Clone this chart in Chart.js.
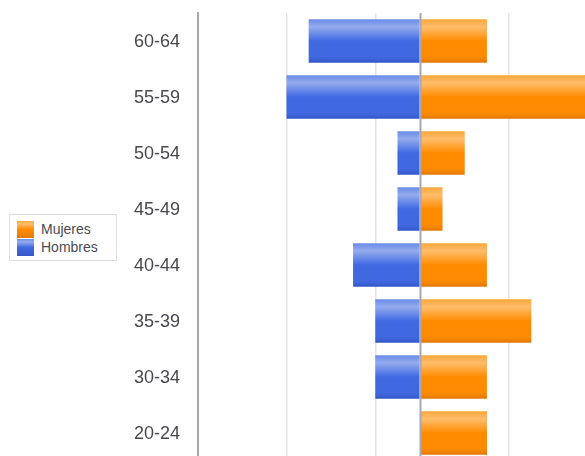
<!DOCTYPE html>
<html>
<head>
<meta charset="utf-8">
<script src="https://cdn.jsdelivr.net/npm/chart.js@4.4.1/dist/chart.umd.min.js"></script>
<style>
  html, body { margin: 0; padding: 0; background: #fff; overflow: hidden; }
  #wrap { position: relative; width: 642px; height: 461px; }
  #legend {
    position: absolute; left: 9px; top: 214px; width: 106px; height: 45px;
    border: 1px solid #dcdce4; background: #fff;
    font-family: "Liberation Sans", Arial, sans-serif; font-size: 14px; color: #4a4a55;
  }
  #legend .item { position: absolute; left: 7px; height: 17px; line-height: 17px; }
  #legend .sw { display: inline-block; width: 17px; height: 17px; vertical-align: top; margin-right: 7px; }
</style>
</head>
<body>
<div id="wrap">
  <canvas id="pyramid"></canvas>
  <div id="legend"></div>
</div>
<script>
// datos
const grupos = ['60-64', '55-59', '50-54', '45-49', '40-44', '35-39', '30-34', '20-24'];
const mujeres = [3, 8, 2, 1, 3, 5, 3, 3];
const hombres = [-5, -6, -1, -1, -3, -2, -2, 0];
const lineasGuia = [-10, -6, -2, 0, 4, 10];

const BAR_H = 43;

// degradado vertical por barra
function barGradient(context, stops) {
    const chart = context.chart;
    const yScale = chart.scales.y;
    if (!yScale || context.dataIndex === undefined) return stops[2][1];
    const yc = yScale.getPixelForValue(context.dataIndex);
    if (!isFinite(yc)) return stops[2][1];
    const g = chart.ctx.createLinearGradient(0, yc - BAR_H / 2, 0, yc + BAR_H / 2);
    stops.forEach(s => g.addColorStop(s[0], s[1]));
    return g;
}

const naranja = [[0, '#ffa73a'], [0.17, '#ffbd6c'], [0.5, '#ff8c00'], [0.88, '#fd8a00'], [1, '#e27a00']];
const azul = [[0, '#6b8be6'], [0.17, '#95acf0'], [0.5, '#4169e1'], [0.88, '#4068df'], [1, '#3558c8']];

// línea del cero encima de las barras
const zeroLine = {
    id: 'zeroLine',
    afterDatasetsDraw(chart) {
        const x = Math.round(chart.scales.x.getPixelForValue(0)) + 0.5;
        const ctx = chart.ctx;
        ctx.save();
        ctx.strokeStyle = '#a4a7bc';
        ctx.lineWidth = 2;
        ctx.beginPath();
        ctx.moveTo(x, chart.chartArea.top);
        ctx.lineTo(x, chart.chartArea.bottom);
        ctx.stroke();
        ctx.restore();
    }
};

const chart = new Chart(document.getElementById('pyramid'), {
    type: 'bar',
    data: {
        labels: grupos,
        datasets: [{
            label: 'Mujeres',
            data: mujeres,
            backgroundColor: ctx => barGradient(ctx, naranja),
            barThickness: BAR_H,
            borderWidth: 0
        }, {
            label: 'Hombres',
            data: hombres,
            backgroundColor: ctx => barGradient(ctx, azul),
            barThickness: BAR_H,
            borderWidth: 0
        }]
    },
    options: {
        indexAxis: 'y',
        responsive: true,
        maintainAspectRatio: false,
        animation: false,
        layout: { padding: { left: 0, right: 0, top: 13, bottom: 0 } },
        plugins: {
            legend: { display: false },
            tooltip: { enabled: false },
            title: { display: false }
        },
        scales: {
            x: {
                stacked: true,
                min: -10,
                max: 10,
                afterBuildTicks: function (scale) {
                    scale.ticks = lineasGuia.map(v => ({ value: v }));
                },
                afterFit: function (scale) {
                    scale.height = 0;
                    scale.paddingLeft = 0; scale.paddingRight = 0;
                },
                ticks: { display: false },
                border: { display: false },
                grid: {
                    drawTicks: false,
                    lineWidth: 1.5,
                    color: function (c) {
                        const v = c.tick ? c.tick.value : null;
                        if (v === -10 || v === 0 || v === 10) return 'rgba(0,0,0,0)';
                        return '#e3e3ea';
                    }
                }
            },
            y: {
                stacked: true,
                afterFit: function (scale) {
                    scale.width = 198;
                    scale.paddingTop = 0; scale.paddingBottom = 0;
                },
                border: { display: true, color: '#a4a7bc', width: 2 },
                grid: { display: false, drawTicks: false },
                ticks: {
                    padding: 18,
                    labelOffset: 1,
                    color: '#474750',
                    font: { family: '"Liberation Sans", Arial, sans-serif', size: 18 }
                }
            }
        }
    },
    plugins: [zeroLine]
});

// leyenda en HTML
const legendEl = document.getElementById('legend');
const swatches = { 'Mujeres': 'linear-gradient(#ffa73a, #ffbd6c 17%, #ff8c00 50%, #e27a00)',
                   'Hombres': 'linear-gradient(#6b8be6, #95acf0 17%, #4169e1 50%, #3558c8)' };
chart.data.datasets.forEach((ds, i) => {
    const item = document.createElement('div');
    item.className = 'item';
    item.style.top = (6 + i * 18) + 'px';
    const sw = document.createElement('span');
    sw.className = 'sw';
    sw.style.background = swatches[ds.label];
    item.appendChild(sw);
    item.appendChild(document.createTextNode(ds.label));
    legendEl.appendChild(item);
});
</script>
</body>
</html>
